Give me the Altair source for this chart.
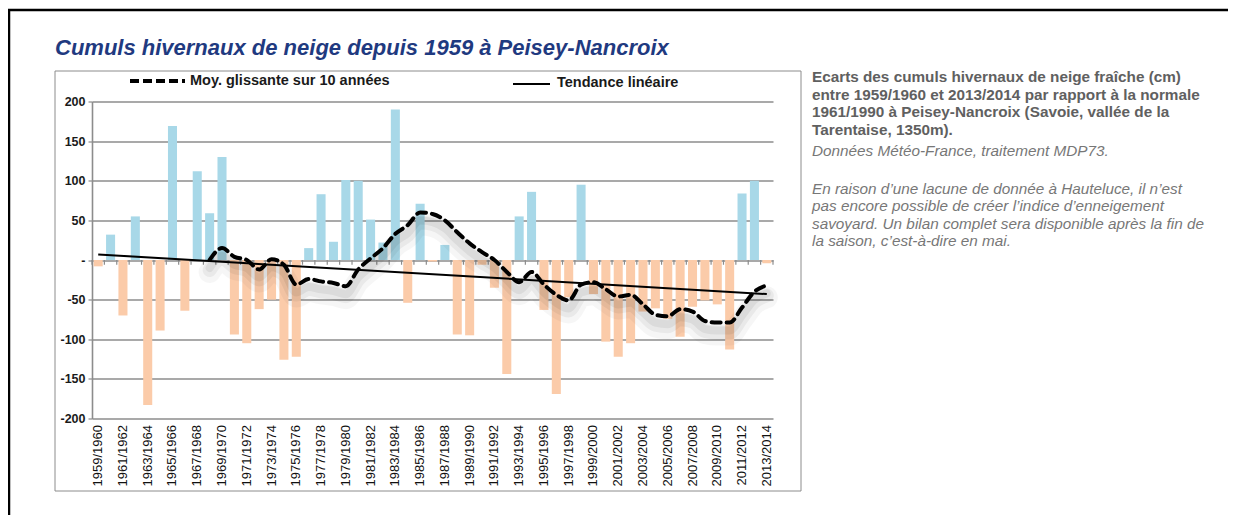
import altair as alt
import pandas as pd
import numpy as np

# ---------------- data ----------------
seasons = [f"{y}/{y + 1}" for y in range(1959, 2014)]

ecarts = [-8, 32, -70, 55, -183, -89, 169, -64, 112, 59,
          130, -94, -105, -62, -50, -126, -122, 15, 83, 23,
          101, 100, 51, 22, 190, -54, 71, -2, 19, -94,
          -95, -6, -35, -144, 55, 86, -63, -169, -47, 95,
          -43, -103, -122, -105, -65, -61, -74, -97, -59, -51,
          -56, -113, 84, 100, -4]

moy_glissante = [None] * 9 + [
    0, 15, 4, 0, -12, 1, -6, -31,
    -24, -27, -29, -33, -12, 2, 15, 33,
    44, 60, 58, 50, 35, 21, 10, 0,
    -15, -28, -15, -31, -44, -51, -31, -28,
    -37, -46, -44, -56, -69, -71, -62, -65,
    -77, -79, -79, -60, -40, -32]

trend_seasons = [seasons[0], seasons[-1]]
trend_values = [7, -43]

y_ticks = [-200, -150, -100, -50, 0, 50, 100, 150, 200]

title_text = "Cumuls hivernaux de neige depuis 1959 à Peisey-Nancroix"
legend_ma = "Moy. glissante sur 10 années"
legend_trend = "Tendance linéaire"
note_bold = ["Ecarts des cumuls hivernaux de neige fraîche (cm)",
             "entre 1959/1960 et 2013/2014 par rapport à la normale",
             "1961/1990 à Peisey-Nancroix (Savoie, vallée de la",
             "Tarentaise, 1350m)."]
note_source = "Données Météo-France, traitement MDP73."
note_italic = ["En raison d’une lacune de donnée à Hauteluce, il n’est",
               "pas encore possible de créer l’indice d’enneigement",
               "savoyard. Un bilan complet sera disponible après la fin de",
               "la saison, c’est-à-dire en mai."]

df = pd.DataFrame({"saison": seasons, "ecart": ecarts,
                   "moy": [np.nan if v is None else v for v in moy_glissante]})
df["signe"] = np.where(df["ecart"] >= 0, "pos", "neg")
df_trend = pd.DataFrame({"saison": trend_seasons, "v": trend_values})
one = pd.DataFrame({"a": [0]})

# ---------------- layout ----------------
W, H = 681, 317
PAD_L, PAD_T = 84, 93.5
TOTAL_W, TOTAL_H = 1220, 507
STEP = W / len(seasons)
FONT = "Liberation Sans, Arial, sans-serif"
GRID = "#8c8c8c"

xscale = alt.Scale(domain=seasons, paddingInner=0.27, paddingOuter=0.135)
yscale = alt.Scale(domain=[-200, 200], nice=False)

x_axis = alt.Axis(title=None, values=seasons[::2], labelAngle=-90,
                  labelFont=FONT, labelFontSize=13, labelColor="#111111",
                  domain=False, ticks=False, grid=False, labelPadding=6,
                  labelOverlap=False)
y_axis = alt.Axis(title=None, values=y_ticks, labelOverlap=False,
                  labelExpr="datum.value == 0 ? '-' : '' + datum.value",
                  grid=True, gridColor=GRID, gridWidth=1.6,
                  domainColor=GRID, domainWidth=1.6,
                  tickColor=GRID, tickSize=4, tickWidth=1.2,
                  labelFont=FONT, labelFontSize=12.5, labelFontWeight="bold",
                  labelColor="#1a1a1a", labelPadding=3)

X = alt.X("saison:N", scale=xscale, sort=seasons, axis=x_axis)


def Y(field):
    return alt.Y(field, scale=yscale, axis=y_axis)


base = alt.Chart(df)

bars = base.mark_bar().encode(
    x=X, y=Y("ecart:Q"),
    color=alt.Color("signe:N", scale=alt.Scale(domain=["pos", "neg"],
                                               range=["#a8d8e8", "#fbcba9"]),
                    legend=None),
)

# small category tick marks along the zero line
df_ticks = df.assign(zero=0, low=-6)
zero_ticks = alt.Chart(df_ticks).mark_rule(
    color=GRID, strokeWidth=1.2, xOffset=-STEP / 2).encode(
    x=X, y=Y("zero:Q"), y2="low:Q")
zero_tick_end = alt.Chart(df_ticks.tail(1)).mark_rule(
    color=GRID, strokeWidth=1.2, xOffset=STEP / 2).encode(
    x=X, y=Y("zero:Q"), y2="low:Q")

ma_base = base.transform_filter("isValid(datum.moy)")
shadows = []
for sw, op, off in [(22, 0.035, 12), (14, 0.05, 10), (8, 0.06, 8)]:
    shadows.append(ma_base.mark_line(color="black", strokeWidth=sw, opacity=op,
                                     yOffset=off, interpolate="monotone",
                                     strokeCap="round", strokeJoin="round").encode(
        x=X, y=Y("moy:Q")))

trend = alt.Chart(df_trend).mark_line(color="black", strokeWidth=2).encode(
    x=X, y=Y("v:Q"))

ma_line = ma_base.mark_line(color="black", strokeWidth=4, strokeDash=[9, 6],
                            strokeCap="round", interpolate="monotone").encode(
    x=X, y=Y("moy:Q"))

deco = alt.Chart(one)

# outer black frame (left and top edges)
frame_left = deco.mark_rule(color="black", strokeWidth=2.5).encode(
    x=alt.value(-83), y=alt.value(-91.5), y2=alt.value(TOTAL_H - PAD_T + 2))
frame_top = deco.mark_rule(color="black", strokeWidth=2.5).encode(
    x=alt.value(-84), x2=alt.value(TOTAL_W - PAD_L), y=alt.value(-91.5))

# grey chart box
box = deco.mark_rect(fillOpacity=0, stroke="#8c8c8c", strokeWidth=1).encode(
    x=alt.value(-37), x2=alt.value(709), y=alt.value(-30.5), y2=alt.value(389.5))

title = deco.mark_text(align="left", baseline="alphabetic", font=FONT, fontSize=22,
                       fontWeight="bold", fontStyle="italic", color="#1f3a80").encode(
    x=alt.value(-37), y=alt.value(-46.5), text=alt.value(title_text))

leg_ma_line = deco.mark_rule(color="black", strokeWidth=4, strokeDash=[9, 4]).encode(
    x=alt.value(38), x2=alt.value(93), y=alt.value(-20.5))
leg_ma_text = deco.mark_text(align="left", baseline="middle", font=FONT,
                             fontSize=14.5, fontWeight="bold", color="#1a1a1a").encode(
    x=alt.value(98), y=alt.value(-20.5), text=alt.value(legend_ma))
leg_tr_line = deco.mark_rule(color="black", strokeWidth=2).encode(
    x=alt.value(421), x2=alt.value(458), y=alt.value(-17.5))
leg_tr_text = deco.mark_text(align="left", baseline="middle", font=FONT,
                             fontSize=14.5, fontWeight="bold", color="#1a1a1a").encode(
    x=alt.value(465), y=alt.value(-18.5), text=alt.value(legend_trend))

# right-hand notes (baselines relative to the plot top)
note1 = deco.mark_text(align="left", baseline="alphabetic", font=FONT, fontSize=15.3,
                       fontWeight="bold", color="#606060", lineHeight=17.5).encode(
    x=alt.value(720), y=alt.value(-19.5), text=alt.value(note_bold))
note2 = deco.mark_text(align="left", baseline="alphabetic", font=FONT, fontSize=15.3,
                       fontStyle="italic", color="#777777").encode(
    x=alt.value(720), y=alt.value(54), text=alt.value(note_source))
note3 = deco.mark_text(align="left", baseline="alphabetic", font=FONT, fontSize=15.3,
                       fontStyle="italic", color="#777777", lineHeight=17.5).encode(
    x=alt.value(720), y=alt.value(92), text=alt.value(note_italic))

chart = alt.layer(
    bars, box, frame_left, frame_top, zero_ticks, zero_tick_end,
    *shadows, trend, ma_line,
    title, leg_ma_line, leg_ma_text, leg_tr_line, leg_tr_text,
    note1, note2, note3,
).properties(
    width=W, height=H,
    autosize=alt.AutoSizeParams(type="none"),
    padding={"left": PAD_L, "top": PAD_T,
             "right": TOTAL_W - PAD_L - W, "bottom": TOTAL_H - PAD_T - H},
    background="white",
).configure_view(strokeWidth=0)

chart.save("out.html", embed_options={"renderer": "svg", "actions": False})
